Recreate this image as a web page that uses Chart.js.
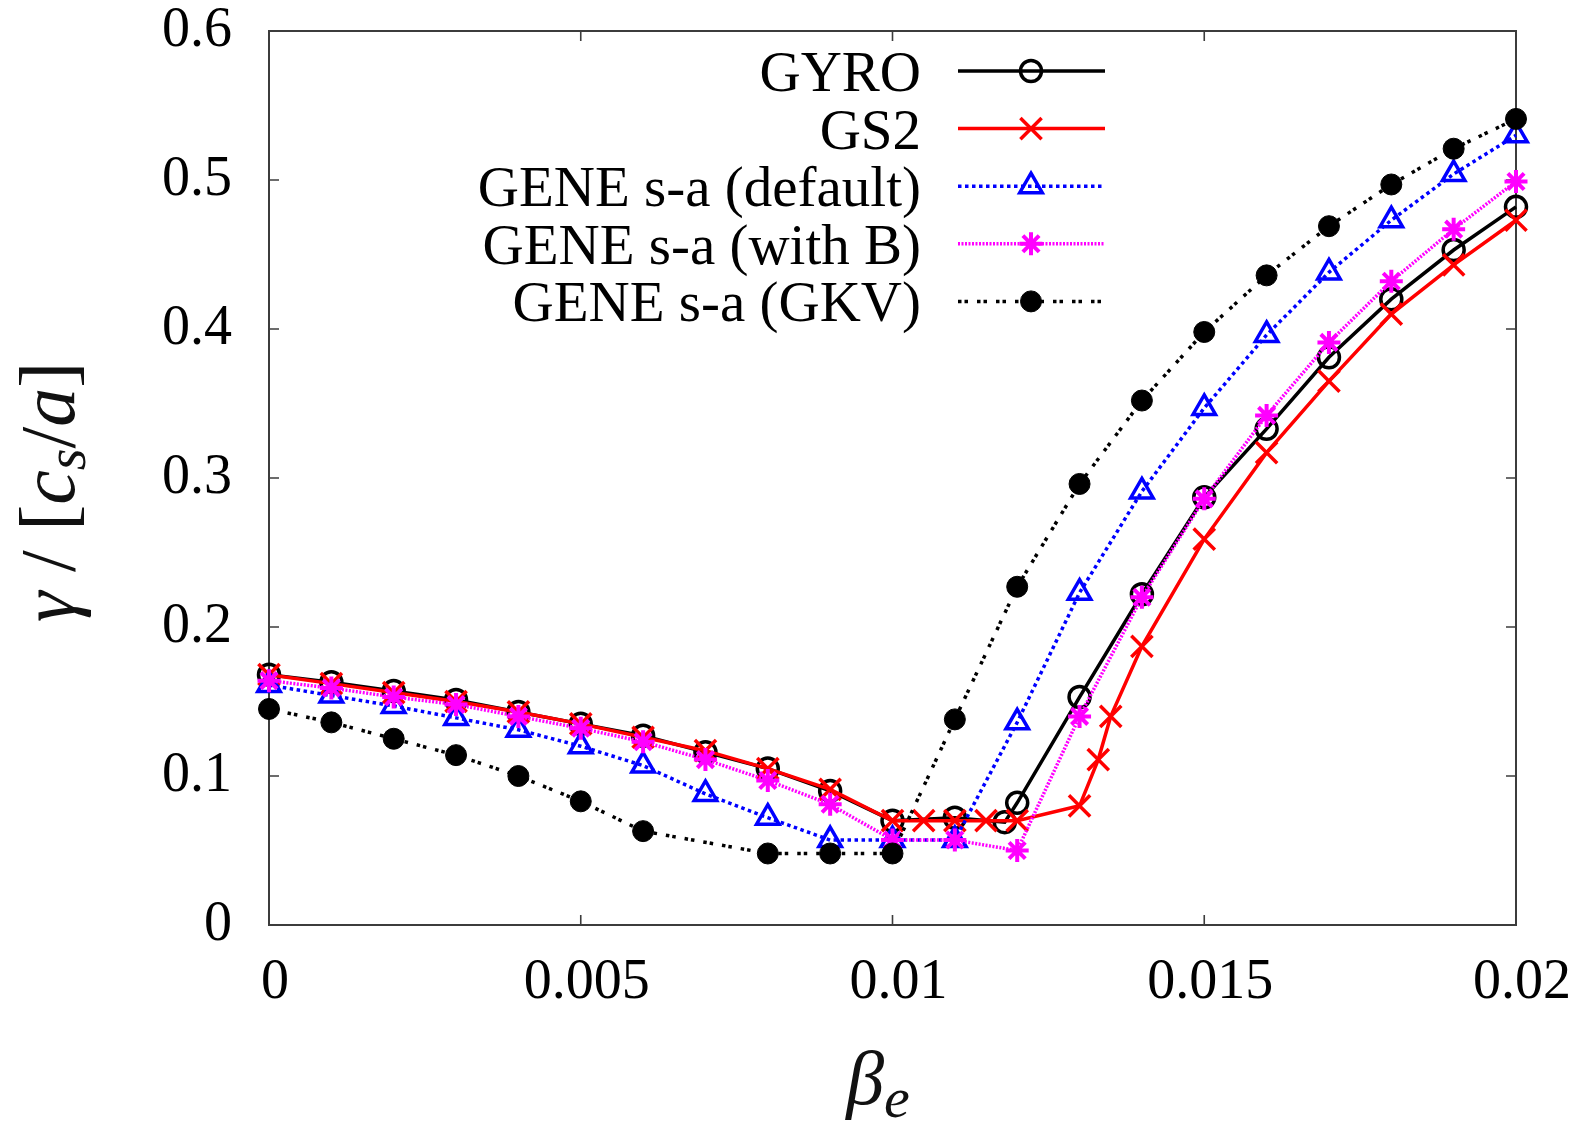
<!DOCTYPE html>
<html>
<head>
<meta charset="utf-8">
<script src="https://cdn.jsdelivr.net/npm/chart.js@4.4.1/dist/chart.umd.min.js"></script>
<style>
  html, body { margin: 0; padding: 0; background: #fff; }
  canvas { display: block; }
</style>
</head>
<body>
<canvas id="betaChart" width="1581" height="1124"></canvas>
<script>
// growth rate vs beta_e

const gyroBeta = [0, 0.001, 0.002, 0.003, 0.004, 0.005, 0.006, 0.007, 0.008, 0.009, 0.010,
  0.011, 0.0118, 0.012, 0.013, 0.014, 0.015, 0.016, 0.017, 0.018, 0.019, 0.020];
const gyroGamma = [0.168, 0.163, 0.157, 0.151, 0.143, 0.135, 0.127, 0.116, 0.105, 0.090, 0.070,
  0.072, 0.069, 0.082, 0.153, 0.222, 0.287, 0.333, 0.381, 0.420, 0.453, 0.482];

const gs2Beta = [0, 0.001, 0.002, 0.003, 0.004, 0.005, 0.006, 0.007, 0.008, 0.009, 0.010,
  0.0105, 0.011, 0.0115, 0.012, 0.013, 0.0133, 0.0135, 0.014, 0.015, 0.016, 0.017, 0.018, 0.019, 0.020];
const gs2Gamma = [0.168, 0.162, 0.156, 0.150, 0.143, 0.135, 0.126, 0.117, 0.105, 0.091, 0.070,
  0.070, 0.070, 0.070, 0.070, 0.080, 0.111, 0.140, 0.187, 0.259, 0.317, 0.365, 0.410, 0.443, 0.473];

const geneBeta = [0, 0.001, 0.002, 0.003, 0.004, 0.005, 0.006, 0.007, 0.008, 0.009, 0.010,
  0.011, 0.012, 0.013, 0.014, 0.015, 0.016, 0.017, 0.018, 0.019, 0.020];
const defaultGamma = [0.161, 0.154, 0.147, 0.139, 0.131, 0.120, 0.107, 0.088, 0.072, 0.057, 0.057,
  0.057, 0.136, 0.223, 0.291, 0.347, 0.396, 0.438, 0.473, 0.504, 0.530];
const withBGamma = [0.164, 0.159, 0.153, 0.148, 0.140, 0.132, 0.123, 0.111, 0.097, 0.081, 0.057,
  0.057, 0.050, 0.140, 0.220, 0.286, 0.342, 0.391, 0.432, 0.467, 0.499];

const gkvBeta = [0, 0.001, 0.002, 0.003, 0.004, 0.005, 0.006, 0.008, 0.009, 0.010,
  0.011, 0.012, 0.013, 0.014, 0.015, 0.016, 0.017, 0.018, 0.019, 0.020];
const gkvGamma = [0.145, 0.136, 0.125, 0.114, 0.100, 0.083, 0.063, 0.048, 0.048, 0.048,
  0.138, 0.227, 0.296, 0.352, 0.398, 0.436, 0.469, 0.497, 0.521, 0.541];

const seriesNames = ['GYRO', 'GS2', 'GENE s-a (default)', 'GENE s-a (with B)', 'GENE s-a (GKV)'];

const serif = '"Liberation Serif", "Times New Roman", serif';
const hollow = 'rgba(0,0,0,0)';

function pts(xs, ys) {
  return xs.map((x, i) => ({ x: x, y: ys[i] }));
}

// box + inward ticks on all four sides (gnuplot style)
const framePlugin = {
  id: 'frame',
  beforeDatasetsDraw(chart) {
    const { ctx, chartArea: a, scales: { x, y } } = chart;
    ctx.save();
    ctx.strokeStyle = '#3c3c3c';
    ctx.lineWidth = 2;
    ctx.strokeRect(a.left, a.top, a.right - a.left, a.bottom - a.top);
    ctx.lineWidth = 1.6;
    ctx.beginPath();
    x.ticks.forEach(t => {
      const px = x.getPixelForValue(t.value);
      ctx.moveTo(px, a.bottom); ctx.lineTo(px, a.bottom - 10);
      ctx.moveTo(px, a.top); ctx.lineTo(px, a.top + 10);
    });
    y.ticks.forEach(t => {
      const py = y.getPixelForValue(t.value);
      ctx.moveTo(a.left, py); ctx.lineTo(a.left + 10, py);
      ctx.moveTo(a.right, py); ctx.lineTo(a.right - 10, py);
    });
    ctx.stroke();
    ctx.restore();
  }
};

// key in the top-left, text right-aligned before the sample
const keyPlugin = {
  id: 'key',
  afterDatasetsDraw(chart) {
    const ctx = chart.ctx;
    ctx.save();
    chart.data.datasets.forEach((ds, i) => {
      const rowY = 71 + i * 57.6;
      ctx.font = '57px ' + serif;
      ctx.textAlign = 'right';
      ctx.textBaseline = 'alphabetic';
      ctx.fillStyle = '#000';
      ctx.fillText(ds.label, 921, rowY + 20);

      ctx.strokeStyle = ds.borderColor;
      ctx.lineWidth = ds.borderWidth;
      ctx.setLineDash(ds.borderDash || []);
      ctx.beginPath();
      ctx.moveTo(958, rowY);
      ctx.lineTo(1105, rowY);
      ctx.stroke();
      ctx.setLineDash([]);

      ctx.fillStyle = ds.pointBackgroundColor;
      ctx.strokeStyle = ds.pointBorderColor;
      ctx.lineWidth = ds.pointBorderWidth;
      Chart.helpers.drawPoint(ctx, {
        pointStyle: ds.pointStyle,
        radius: ds.pointRadius,
        borderWidth: ds.pointBorderWidth,
        rotation: 0
      }, 1031, rowY);
    });
    ctx.restore();
  }
};

function drawRuns(ctx, runs, x0) {
  let x = x0;
  runs.forEach(r => {
    ctx.font = (r.it ? 'italic ' : '') + r.size + 'px ' + serif;
    ctx.fillText(r.t, x, r.dy || 0);
    x += ctx.measureText(r.t).width;
  });
}

function runsWidth(ctx, runs) {
  let w = 0;
  runs.forEach(r => {
    ctx.font = (r.it ? 'italic ' : '') + r.size + 'px ' + serif;
    w += ctx.measureText(r.t).width;
  });
  return w;
}

// axis titles with sub-scripts
const titlePlugin = {
  id: 'axisTitles',
  afterDraw(chart) {
    const ctx = chart.ctx;
    ctx.save();
    ctx.fillStyle = '#111';
    ctx.textAlign = 'left';
    ctx.textBaseline = 'alphabetic';

    const yRuns = [
      { t: 'γ', it: true, size: 78 },
      { t: ' / [', it: false, size: 78 },
      { t: 'c', it: true, size: 78 },
      { t: 's', it: true, size: 56, dy: 11 },
      { t: '/', it: false, size: 78 },
      { t: 'a', it: true, size: 78 },
      { t: ']', it: false, size: 78 }
    ];
    ctx.save();
    ctx.translate(74, 492);
    ctx.rotate(-Math.PI / 2);
    drawRuns(ctx, yRuns, -runsWidth(ctx, yRuns) / 2);
    ctx.restore();

    const xRuns = [
      { t: 'β', it: true, size: 76 },
      { t: 'e', it: true, size: 58, dy: 13 }
    ];
    ctx.save();
    ctx.translate(878, 1104);
    drawRuns(ctx, xRuns, -runsWidth(ctx, xRuns) / 2);
    ctx.restore();

    ctx.restore();
  }
};

const ctx = document.getElementById('betaChart').getContext('2d');
new Chart(ctx, {
  type: 'line',
  data: {
    datasets: [{
      label: seriesNames[0],
      data: pts(gyroBeta, gyroGamma),
      borderColor: '#000000',
      borderWidth: 3.5,
      pointStyle: 'circle',
      pointRadius: 10.5,
      pointBorderWidth: 3.5,
      pointBorderColor: '#000000',
      pointBackgroundColor: hollow,
      order: 5
    }, {
      label: seriesNames[1],
      data: pts(gs2Beta, gs2Gamma),
      borderColor: '#ff0000',
      borderWidth: 3.5,
      pointStyle: 'crossRot',
      pointRadius: 15,
      pointBorderWidth: 3.5,
      pointBorderColor: '#ff0000',
      pointBackgroundColor: hollow,
      order: 4
    }, {
      label: seriesNames[2],
      data: pts(geneBeta, defaultGamma),
      borderColor: '#0000ff',
      borderWidth: 3.5,
      borderDash: [3.5, 3.5],
      pointStyle: 'triangle',
      pointRadius: 13,
      pointBorderWidth: 3.5,
      pointBorderColor: '#0000ff',
      pointBackgroundColor: hollow,
      order: 3
    }, {
      label: seriesNames[3],
      data: pts(geneBeta, withBGamma),
      borderColor: '#ff00ff',
      borderWidth: 3.5,
      borderDash: [2, 1.5],
      pointStyle: 'star',
      pointRadius: 11.5,
      pointBorderWidth: 4,
      pointBorderColor: '#ff00ff',
      pointBackgroundColor: hollow,
      order: 2
    }, {
      label: seriesNames[4],
      data: pts(gkvBeta, gkvGamma),
      borderColor: '#000000',
      borderWidth: 3.5,
      borderDash: [3.5, 3, 3.5, 9],
      pointStyle: 'circle',
      pointRadius: 10.5,
      pointBorderWidth: 1,
      pointBorderColor: '#000000',
      pointBackgroundColor: '#000000',
      order: 1
    }]
  },
  options: {
    responsive: false,
    animation: false,
    devicePixelRatio: 1,
    layout: { padding: { top: 31, right: 65, left: 0, bottom: 0 } },
    datasets: { line: { tension: 0, clip: false, fill: false } },
    plugins: {
      legend: { display: false },
      tooltip: { enabled: false }
    },
    scales: {
      x: {
        type: 'linear',
        min: 0,
        max: 0.02,
        grid: { display: false, drawTicks: false },
        border: { display: false },
        ticks: {
          stepSize: 0.005,
          autoSkip: false,
          maxRotation: 0,
          padding: 30,
          labelOffset: 6,
          color: '#000',
          font: { family: serif, size: 56, lineHeight: 1 },
          callback: v => String(+v.toFixed(3))
        },
        afterFit(scale) {
          scale.height = 199;
          scale.paddingLeft = 0;
          scale.paddingRight = 0;
        }
      },
      y: {
        min: 0,
        max: 0.6,
        grid: { display: false, drawTicks: false },
        border: { display: false },
        ticks: {
          stepSize: 0.1,
          autoSkip: false,
          padding: 37,
          color: '#000',
          font: { family: serif, size: 56, lineHeight: 1 },
          callback: v => String(+v.toFixed(1))
        },
        afterFit(scale) {
          scale.width = 269;
          scale.paddingTop = 0;
          scale.paddingBottom = 0;
        }
      }
    }
  },
  plugins: [framePlugin, keyPlugin, titlePlugin]
});
</script>
</body>
</html>
